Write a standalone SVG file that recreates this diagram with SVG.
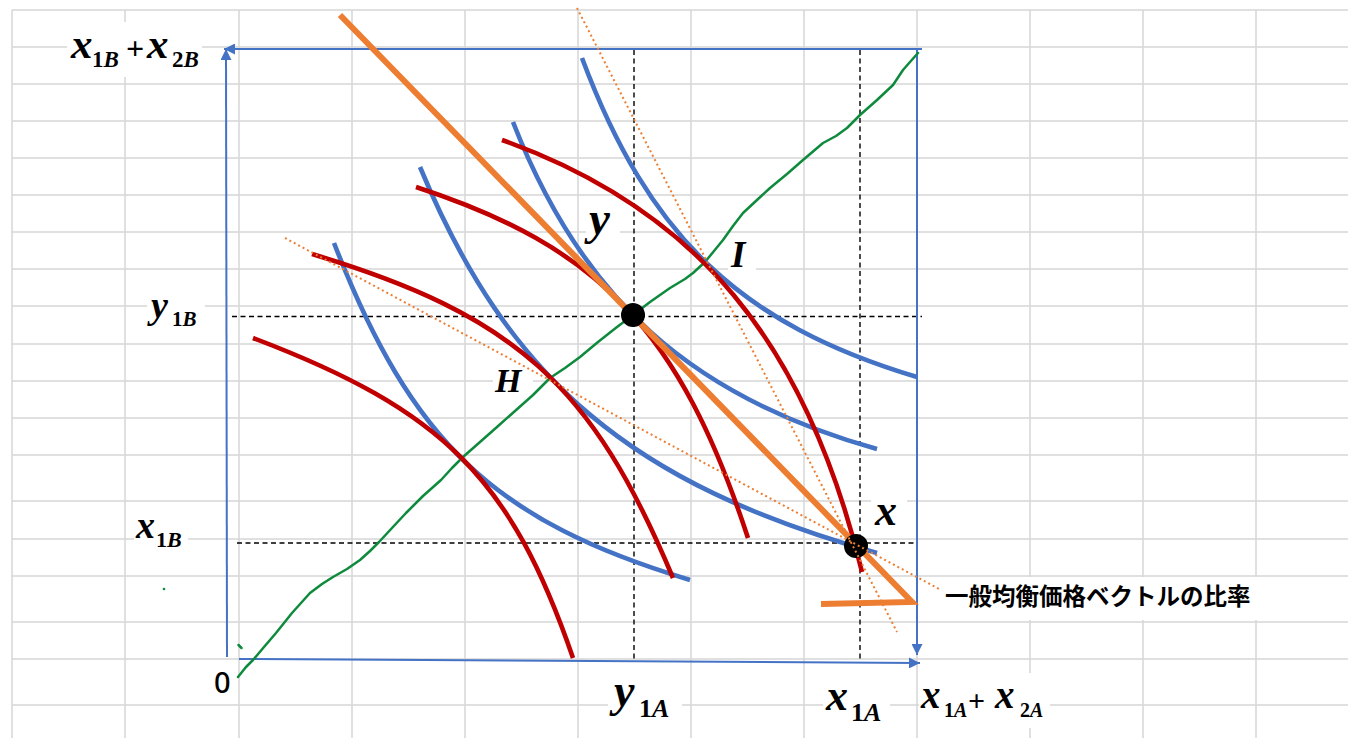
<svg xmlns="http://www.w3.org/2000/svg" width="1348" height="738" viewBox="0 0 1348 738">
<defs>
<style>
.grid{stroke:#d6d6d6;stroke-width:1.5;fill:none}
.box{fill:#ffffff;stroke:none}
.axis{stroke:#4472C4;stroke-width:2;fill:none}
.dash{stroke:#000;stroke-width:1.4;stroke-dasharray:5 3.5;fill:none}
.blue{stroke:#4472C4;stroke-width:4.6;fill:none}
.red{stroke:#C00000;stroke-width:4.6;fill:none}
.green{stroke:#0E8A3C;stroke-width:2.5;fill:none;stroke-linejoin:round;stroke-linecap:round}
.orange{stroke:#ED7D31;stroke-width:6;fill:none;stroke-linejoin:miter}
.dotl{stroke:#ED7D31;stroke-width:2;stroke-dasharray:2 3;fill:none}
.m{font-family:"Liberation Serif","Times New Roman",serif;font-weight:bold;font-style:italic;fill:#000}
.up{font-style:normal}
.jp{font-family:"Noto Sans CJK JP","Noto Sans",sans-serif;font-weight:bold;font-size:23.5px;fill:#000}
.zero{font-family:"Noto Sans","Open Sans",sans-serif;font-size:29px;font-weight:500;fill:#000}
</style>
<marker id="arr" viewBox="0 0 10 10" refX="10" refY="5" markerWidth="12" markerHeight="11" markerUnits="userSpaceOnUse" orient="auto">
<path d="M0,0 L10,5 L0,10 z" fill="#4472C4"/>
</marker>
</defs>
<rect width="1348" height="738" fill="#ffffff"/>
<g id="grid">
<path class="grid" d="M12,10V738M125,10V738M239,10V738M352,10V738M465,10V738M578,10V738M691,10V738M804,10V738M917,10V738M1030,10V738M1143,10V738M1256,10V738"/>
<path class="grid" d="M12,10H1348M12,47H1348M12,84H1348M12,121H1348M12,158H1348M12,195H1348M12,232H1348M12,269H1348M12,306H1348M12,344H1348M12,381H1348M12,418H1348M12,455H1348M12,501H1348M12,539H1348M12,576H1348M12,622H1348M12,659H1348M12,705H1348"/>
</g>
<g id="label-boxes">
<rect class="box" x="67" y="22" width="135" height="55"/>
<rect class="box" x="147" y="292" width="58" height="43"/>
<rect class="box" x="134" y="515" width="54" height="45"/>
<rect class="box" x="608" y="674" width="74" height="58"/>
<rect class="box" x="823" y="678" width="67" height="54"/>
<rect class="box" x="919" y="673" width="131" height="55"/>
<rect class="box" x="942" y="577" width="320" height="43"/>
<rect class="box" x="871" y="492" width="36" height="43"/>
<rect class="box" x="728" y="238" width="28" height="38"/>
<rect class="box" x="493" y="362" width="40" height="33"/>
<rect class="box" x="586" y="212" width="34" height="40"/>
</g>
<g id="guides">
<path class="dash" d="M634,50V659M860,50V661M232,316.5H922M237,543H918"/>
</g>
<g id="axes">
<path class="axis" d="M227,657L226,49" marker-end="url(#arr)"/>
<path class="axis" d="M922,49L224,49" marker-end="url(#arr)"/>
<path class="axis" d="M917,49L917,655" marker-end="url(#arr)"/>
<path class="axis" d="M239,659L920,663" marker-end="url(#arr)"/>
</g>
<g id="connectors">
<g id="contract-curve">
<polyline class="green" points="238,677 246,667 253,660 264,647 276,633 292,613 310,593 322,584 333,577 347,569 360,560 370,551 379,542 392,528 406,513 423,496 441,480 452,468 463,457 480,442 497,427 515,411 533,395 550,378 565,368 580,357 598,342 617,327 633,315 650,302 670,288 685,279 693,273 705,262 714,251 723,240 733,226 743,213 757,200 770,188 787,174 803,160 823,143 836,136 847,128 860,115 877,100 893,85 903,70 910,62 918,53"/>
<path class="green" d="M238.5,645L241.5,648"/>
<circle cx="164" cy="589" r="1.3" fill="#0E8A3C"/>
</g>
<g id="indifference-A">
<path class="blue" d="M334,243C412,443 494,521 690,580"/>
<path class="blue" d="M420,167C509,381 631,484 877,553"/>
<path class="blue" d="M513,122C582,299 691,397 877,449"/>
<path class="blue" d="M582,58C649,237 740,324 917,377"/>
</g>
<g id="indifference-B">
<path class="red" d="M253,338C443,410 511,478 573,658"/>
<path class="red" d="M312,254C515,315 592,384 673,578"/>
<path class="red" d="M416,187C600,247 680,331 748,538"/>
<path class="red" d="M502,140C696,209 806,341 862,572"/>
</g>
<g id="price-line">
<polyline class="orange" points="340,15 912,602 821,604"/>
</g>
</g>
<g id="node-y"><circle cx="633" cy="315" r="12" fill="#000"/></g>
<g id="node-x"><circle cx="856" cy="546" r="12" fill="#000"/></g>
<g id="price-ratios">
<path class="dotl" d="M577,8L897,632"/>
<path class="dotl" d="M285,238L941,590"/>
</g>
<g id="labels">
<g id="label-top-left">
<text class="m" x="71" y="58" font-size="43">x</text>
<text class="m" x="92" y="67" font-size="23"><tspan class="up">1</tspan>B</text>
<text class="m up" x="126" y="59" font-size="32">+</text>
<text class="m" x="147" y="58" font-size="43">x</text>
<text class="m" x="172" y="67" font-size="23"><tspan class="up">2</tspan>B</text>
</g>
<g id="label-y1B">
<text class="m" x="151" y="318" font-size="38">y</text>
<text class="m" x="172" y="326" font-size="21"><tspan class="up">1</tspan>B</text>
</g>
<g id="label-x1B">
<text class="m" x="136" y="538" font-size="38">x</text>
<text class="m" x="156" y="547" font-size="22"><tspan class="up">1</tspan>B</text>
</g>
<text class="zero" x="214" y="693">0</text>
<g id="label-y1A">
<text class="m" x="614" y="706" font-size="46">y</text>
<text class="m" x="639" y="717" font-size="26"><tspan class="up">1</tspan>A</text>
</g>
<g id="label-x1A">
<text class="m" x="826" y="710" font-size="44">x</text>
<text class="m" x="851" y="721" font-size="26"><tspan class="up">1</tspan>A</text>
</g>
<g id="label-x1A-x2A">
<text class="m" x="921" y="708" font-size="39">x</text>
<text class="m" x="944" y="717" font-size="20"><tspan class="up">1</tspan>A</text>
<text class="m up" x="968" y="711" font-size="30">+</text>
<text class="m" x="995" y="708" font-size="39">x</text>
<text class="m" x="1020" y="717" font-size="20"><tspan class="up">2</tspan>A</text>
</g>
<text class="m" x="589" y="234" font-size="47">y</text>
<text class="m" x="731" y="267" font-size="37">I</text>
<text class="m" x="495" y="392" font-size="34">H</text>
<text class="m" x="875" y="525" font-size="44">x</text>
<text class="jp" x="945" y="605">一般均衡価格ベクトルの比率</text>
</g>
</svg>
